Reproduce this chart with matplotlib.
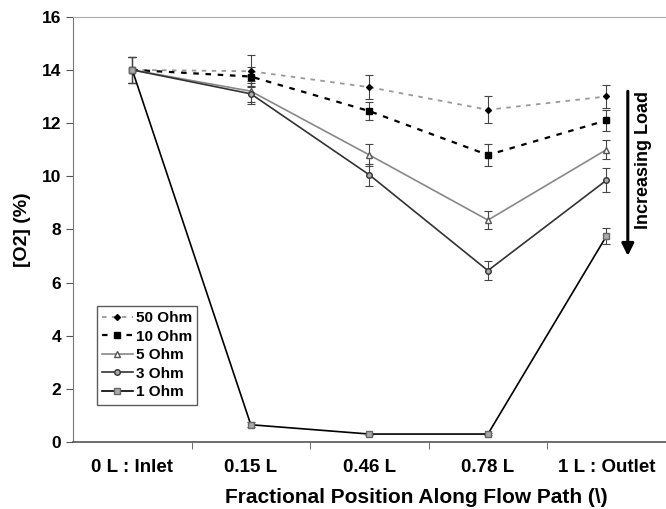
import matplotlib.pyplot as plt
from matplotlib.lines import Line2D
import numpy as np

plt.rcParams['font.family'] = ['Liberation Sans', 'DejaVu Sans']

positions = ["0 L : Inlet", "0.15 L", "0.46 L", "0.78 L", "1 L : Outlet"]
labels = ["50 Ohm", "10 Ohm", "5 Ohm", "3 Ohm", "1 Ohm"]

o2_50 = [14.0, 13.95, 13.35, 12.5, 13.0]
o2_10 = [14.0, 13.75, 12.45, 10.8, 12.1]
o2_5 = [14.0, 13.2, 10.8, 8.35, 11.0]
o2_3 = [14.0, 13.1, 10.05, 6.45, 9.85]
o2_1 = [14.0, 0.65, 0.3, 0.3, 7.75]

err_50 = [0.5, 0.6, 0.45, 0.5, 0.45]
err_10 = [0.5, 0.35, 0.35, 0.4, 0.4]
err_5 = [0.5, 0.4, 0.4, 0.35, 0.35]
err_3 = [0.5, 0.4, 0.4, 0.35, 0.45]
err_1 = [0.5, 0.1, 0.05, 0.05, 0.3]

fig = plt.figure(figsize=(6.66, 5.09), dpi=100)
ax = fig.add_axes([0.1096, 0.1316, 0.89, 0.8355])

x = np.arange(len(positions))

styles = [
    (o2_50, err_50, dict(color='#999999', ls=(0, (2.5, 3)), lw=1.3, marker='D', ms=3,
                         mfc='black', mec='black')),
    (o2_10, err_10, dict(color='black', ls=(0, (2.5, 3)), lw=1.6, marker='s', ms=4,
                         mfc='black', mec='black')),
    (o2_5, err_5, dict(color='#888888', ls='-', lw=1.2, marker='^', ms=4,
                       mfc='white', mec='#555555')),
    (o2_3, err_3, dict(color='#333333', ls='-', lw=1.2, marker='o', ms=4,
                       mfc='#aaaaaa', mec='#333333')),
    (o2_1, err_1, dict(color='black', ls='-', lw=1.2, marker='s', ms=4,
                       mfc='#aaaaaa', mec='#666666')),
]

handles = []
for (vals, errs, st), lab in zip(styles, labels):
    ax.errorbar(x, vals, yerr=errs, capsize=3, elinewidth=0.8, capthick=0.8,
                ecolor='#444444', **st)
    handles.append(Line2D([], [], label=lab, **st))

ax.set_xlim(-0.5, 4.5)
ax.set_ylim(0, 16)
ax.set_yticks(np.arange(0, 17, 2))
ax.set_xticks(x)
ax.set_xticklabels(positions)
ax.set_xticks(np.arange(0.5, 4, 1), minor=True)
ax.tick_params(axis='x', which='major', length=0, pad=12, labelsize=13.5)
ax.tick_params(axis='x', which='minor', length=5, direction='out', color='#555555')
ax.tick_params(axis='y', length=5, direction='out', color='#555555', labelsize=12.5)
for lbl in ax.get_xticklabels() + ax.get_yticklabels():
    lbl.set_fontweight('bold')

ax.spines['right'].set_visible(False)
ax.spines['top'].set_color('#aaaaaa')
ax.spines['left'].set_color('#777777')
ax.spines['bottom'].set_color('#555555')
ax.spines['bottom'].set_linewidth(1.2)

ax.set_ylabel("[O2] (%)", fontsize=14, fontweight='bold', labelpad=8)
ax.set_xlabel("Fractional Position Along Flow Path (\\)", fontsize=15,
              fontweight='bold', va='center')
ax.xaxis.set_label_coords(0.58, -0.13)

ax.annotate("", xy=(4.18, 6.9), xytext=(4.18, 13.3),
            arrowprops=dict(arrowstyle='-|>', lw=2.2, color='black', mutation_scale=18))
ax.text(4.31, 10.6, "Increasing Load", rotation=90, ha='center', va='center',
        fontsize=13, fontweight='bold')

leg = ax.legend(handles=handles, loc='lower left', bbox_to_anchor=(0.027, 0.07),
                fontsize=11, frameon=True, fancybox=False, edgecolor='#333333',
                handlelength=2.0, handletextpad=0.2, borderpad=0.35, labelspacing=0.3)
leg.get_frame().set_linewidth(1.0)
for t in leg.get_texts():
    t.set_fontweight('bold')

fig.savefig("out.png", dpi=100)
